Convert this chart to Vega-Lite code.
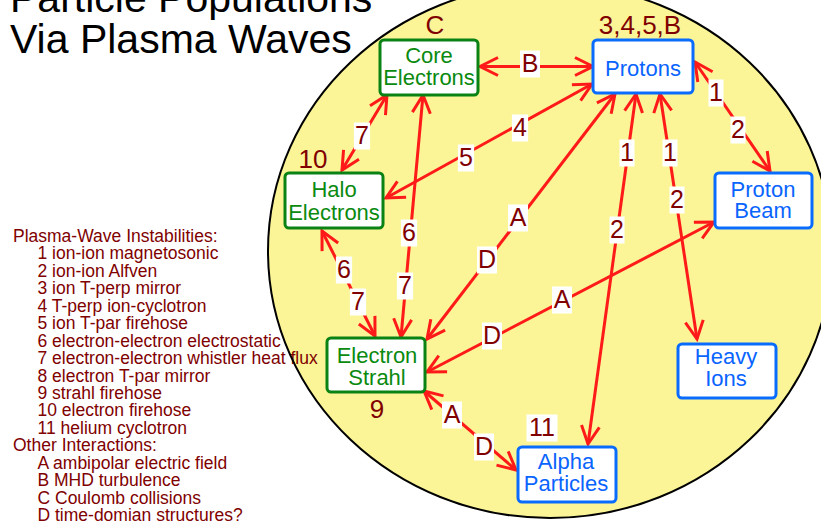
{
  "$schema": "https://vega.github.io/schema/vega-lite/v6.json",
  "width": 821,
  "height": 525,
  "padding": 0,
  "autosize": {"type": "none"},
  "background": "#ffffff",
  "config": {"view": {"stroke": null}, "font": "Liberation Sans"},
  "datasets": {
    "circle": [{"cx": 550, "cy": 251}],
    "legend": [
      {"t": "Plasma-Wave Instabilities:", "x": 13, "y": 242},
      {"t": "1 ion-ion magnetosonic", "x": 37.5, "y": 259.4},
      {"t": "2 ion-ion Alfven", "x": 37.5, "y": 276.9},
      {"t": "3 ion T-perp mirror", "x": 37.5, "y": 294.3},
      {"t": "4 T-perp ion-cyclotron", "x": 37.5, "y": 311.8},
      {"t": "5 ion T-par firehose", "x": 37.5, "y": 329.2},
      {"t": "6 electron-electron electrostatic", "x": 37.5, "y": 346.6},
      {"t": "7 electron-electron whistler heat flux", "x": 37.5, "y": 364.1},
      {"t": "8 electron T-par mirror", "x": 37.5, "y": 381.5},
      {"t": "9 strahl firehose", "x": 37.5, "y": 399},
      {"t": "10 electron firehose", "x": 37.5, "y": 416.4},
      {"t": "11 helium cyclotron", "x": 37.5, "y": 433.8},
      {"t": "Other Interactions:", "x": 13, "y": 451.3},
      {"t": "A ambipolar electric field", "x": 37.5, "y": 468.7},
      {"t": "B MHD turbulence", "x": 37.5, "y": 486.2},
      {"t": "C Coulomb collisions", "x": 37.5, "y": 503.6},
      {"t": "D time-domian structures?", "x": 37.5, "y": 521}
    ],
    "title": [
      {"t": "Particle Populations", "x": 10, "y": 12},
      {"t": "Via Plasma Waves", "x": 10, "y": 53}
    ],
    "arrows": [
      {"x1": 480, "y1": 66.5, "x2": 593, "y2": 66.5},
      {"x1": 387, "y1": 95, "x2": 342, "y2": 170},
      {"x1": 423, "y1": 95, "x2": 401, "y2": 337},
      {"x1": 592, "y1": 84, "x2": 386, "y2": 198},
      {"x1": 615, "y1": 94, "x2": 427, "y2": 339},
      {"x1": 636, "y1": 94, "x2": 588, "y2": 444},
      {"x1": 660, "y1": 94, "x2": 697, "y2": 339},
      {"x1": 695, "y1": 62, "x2": 770, "y2": 171},
      {"x1": 714, "y1": 222, "x2": 427, "y2": 372},
      {"x1": 322, "y1": 231, "x2": 375, "y2": 336},
      {"x1": 424, "y1": 391, "x2": 516, "y2": 470}
    ],
    "boxes": [
      {"name": "Core Electrons", "grp": "electron", "x1": 380, "y1": 40, "x2": 478, "y2": 95},
      {"name": "Protons", "grp": "ion", "x1": 593, "y1": 40, "x2": 693, "y2": 93},
      {"name": "Halo Electrons", "grp": "electron", "x1": 285, "y1": 173, "x2": 383, "y2": 228},
      {"name": "Proton Beam", "grp": "ion", "x1": 715, "y1": 173, "x2": 812, "y2": 228},
      {"name": "Electron Strahl", "grp": "electron", "x1": 327, "y1": 338, "x2": 425, "y2": 392},
      {"name": "Heavy Ions", "grp": "ion", "x1": 678, "y1": 344, "x2": 776, "y2": 398},
      {"name": "Alpha Particles", "grp": "ion", "x1": 518, "y1": 447, "x2": 616, "y2": 502}
    ],
    "nodes": [
      {"t": "Core", "grp": "electron", "x": 429, "y": 56},
      {"t": "Electrons", "grp": "electron", "x": 429, "y": 78},
      {"t": "Protons", "grp": "ion", "x": 643, "y": 69},
      {"t": "Halo", "grp": "electron", "x": 334, "y": 190},
      {"t": "Electrons", "grp": "electron", "x": 334, "y": 213},
      {"t": "Proton", "grp": "ion", "x": 763, "y": 190},
      {"t": "Beam", "grp": "ion", "x": 763, "y": 211},
      {"t": "Electron", "grp": "electron", "x": 377, "y": 356},
      {"t": "Strahl", "grp": "electron", "x": 377, "y": 378},
      {"t": "Heavy", "grp": "ion", "x": 726, "y": 357},
      {"t": "Ions", "grp": "ion", "x": 726, "y": 379},
      {"t": "Alpha", "grp": "ion", "x": 566, "y": 462},
      {"t": "Particles", "grp": "ion", "x": 566, "y": 484}
    ],
    "numbers": [
      {"t": "C", "x": 435, "y": 25.5},
      {"t": "3,4,5,B", "x": 640, "y": 25.5},
      {"t": "10", "x": 313, "y": 159.5},
      {"t": "9", "x": 377, "y": 409.5}
    ],
    "labels": [
      {"t": "B", "x": 530, "y": 64},
      {"t": "7", "x": 362, "y": 136},
      {"t": "6", "x": 409, "y": 233},
      {"t": "7", "x": 405, "y": 286},
      {"t": "4", "x": 520, "y": 128},
      {"t": "5", "x": 466, "y": 158},
      {"t": "A", "x": 518, "y": 218},
      {"t": "D", "x": 487, "y": 260},
      {"t": "1", "x": 627, "y": 153},
      {"t": "2", "x": 617, "y": 230},
      {"t": "1", "x": 670, "y": 153},
      {"t": "2", "x": 677, "y": 200},
      {"t": "1", "x": 716, "y": 93},
      {"t": "2", "x": 738, "y": 130},
      {"t": "A", "x": 562, "y": 300},
      {"t": "D", "x": 492, "y": 336},
      {"t": "6", "x": 344, "y": 270},
      {"t": "7", "x": 358, "y": 302},
      {"t": "A", "x": 452, "y": 415},
      {"t": "D", "x": 484, "y": 447},
      {"t": "11", "x": 542, "y": 428}
    ]
  },
  "layer": [
    {
      "data": {"name": "circle"},
      "mark": {"type": "point", "shape": "M1,0 C1,0.5229 0.5523,0.9468 0,0.9468 C-0.5523,0.9468 -1,0.5229 -1,0 C-1,-0.5229 -0.5523,-0.9468 0,-0.9468 C0.5523,-0.9468 1,-0.5229 1,0 Z", "size": 318096, "filled": true, "fill": "#fbf597", "strokeWidth": 0, "opacity": 1},
      "encoding": {
        "x": {"field": "cx", "type": "quantitative", "scale": {"domain": [0, 821], "nice": false, "zero": false}, "axis": null},
        "y": {"field": "cy", "type": "quantitative", "scale": {"domain": [0, 525], "reverse": true, "nice": false, "zero": false}, "axis": null}
      }
    },
    {
      "data": {"name": "legend"},
      "mark": {"type": "text", "align": "left", "baseline": "alphabetic", "fontSize": 17.5, "color": "#800000", "font": "Liberation Sans"},
      "encoding": {
        "x": {"field": "x", "type": "quantitative", "scale": {"domain": [0, 821], "nice": false, "zero": false}, "axis": null},
        "y": {"field": "y", "type": "quantitative", "scale": {"domain": [0, 525], "reverse": true, "nice": false, "zero": false}, "axis": null},
        "text": {"field": "t"}
      }
    },
    {
      "data": {"name": "circle"},
      "mark": {"type": "point", "shape": "M1,0 C1,0.5229 0.5523,0.9468 0,0.9468 C-0.5523,0.9468 -1,0.5229 -1,0 C-1,-0.5229 -0.5523,-0.9468 0,-0.9468 C0.5523,-0.9468 1,-0.5229 1,0 Z", "size": 318096, "filled": false, "stroke": "#000000", "strokeWidth": 2, "opacity": 1},
      "encoding": {
        "x": {"field": "cx", "type": "quantitative", "scale": {"domain": [0, 821], "nice": false, "zero": false}, "axis": null},
        "y": {"field": "cy", "type": "quantitative", "scale": {"domain": [0, 525], "reverse": true, "nice": false, "zero": false}, "axis": null}
      }
    },
    {
      "data": {"name": "title"},
      "mark": {"type": "text", "align": "left", "baseline": "alphabetic", "fontSize": 41, "color": "#000000", "font": "Liberation Sans"},
      "encoding": {
        "x": {"field": "x", "type": "quantitative", "scale": {"domain": [0, 821], "nice": false, "zero": false}, "axis": null},
        "y": {"field": "y", "type": "quantitative", "scale": {"domain": [0, 525], "reverse": true, "nice": false, "zero": false}, "axis": null},
        "text": {"field": "t"}
      }
    },
    {
      "data": {"name": "arrows"},
      "mark": {"type": "rule", "color": "#ff1a1a", "strokeWidth": 3},
      "encoding": {
        "x": {"field": "x1", "type": "quantitative", "scale": {"domain": [0, 821], "nice": false, "zero": false}, "axis": null},
        "y": {"field": "y1", "type": "quantitative", "scale": {"domain": [0, 525], "reverse": true, "nice": false, "zero": false}, "axis": null},
        "x2": {"field": "x2"},
        "y2": {"field": "y2"}
      }
    },
    {
      "data": {"name": "arrows"},
      "transform": [{"calculate": "atan2(datum.y2 - datum.y1, datum.x2 - datum.x1) * 180 / PI", "as": "a2"}],
      "mark": {"type": "point", "shape": "M-1,-0.5L0,0L-1,0.5", "size": 1296, "filled": false, "color": "#ff1a1a", "strokeWidth": 3, "opacity": 1},
      "encoding": {
        "x": {"field": "x2", "type": "quantitative", "scale": {"domain": [0, 821], "nice": false, "zero": false}, "axis": null},
        "y": {"field": "y2", "type": "quantitative", "scale": {"domain": [0, 525], "reverse": true, "nice": false, "zero": false}, "axis": null},
        "angle": {"field": "a2", "type": "quantitative", "scale": null}
      }
    },
    {
      "data": {"name": "arrows"},
      "transform": [{"calculate": "atan2(datum.y1 - datum.y2, datum.x1 - datum.x2) * 180 / PI", "as": "a1"}],
      "mark": {"type": "point", "shape": "M-1,-0.5L0,0L-1,0.5", "size": 1296, "filled": false, "color": "#ff1a1a", "strokeWidth": 3, "opacity": 1},
      "encoding": {
        "x": {"field": "x1", "type": "quantitative", "scale": {"domain": [0, 821], "nice": false, "zero": false}, "axis": null},
        "y": {"field": "y1", "type": "quantitative", "scale": {"domain": [0, 525], "reverse": true, "nice": false, "zero": false}, "axis": null},
        "angle": {"field": "a1", "type": "quantitative", "scale": null}
      }
    },
    {
      "data": {"name": "boxes"},
      "mark": {"type": "rect", "fill": "#ffffff", "strokeWidth": 3, "cornerRadius": 4},
      "encoding": {
        "x": {"field": "x1", "type": "quantitative", "scale": {"domain": [0, 821], "nice": false, "zero": false}, "axis": null},
        "y": {"field": "y1", "type": "quantitative", "scale": {"domain": [0, 525], "reverse": true, "nice": false, "zero": false}, "axis": null},
        "x2": {"field": "x2"},
        "y2": {"field": "y2"},
        "stroke": {"field": "grp", "type": "nominal", "scale": {"domain": ["electron", "ion"], "range": ["#0a8214", "#0a6cff"]}, "legend": null}
      }
    },
    {
      "data": {"name": "nodes"},
      "mark": {"type": "text", "align": "center", "baseline": "middle", "fontSize": 22, "font": "Liberation Sans"},
      "encoding": {
        "x": {"field": "x", "type": "quantitative", "scale": {"domain": [0, 821], "nice": false, "zero": false}, "axis": null},
        "y": {"field": "y", "type": "quantitative", "scale": {"domain": [0, 525], "reverse": true, "nice": false, "zero": false}, "axis": null},
        "text": {"field": "t"},
        "color": {"field": "grp", "type": "nominal", "scale": {"domain": ["electron", "ion"], "range": ["#0a8a0f", "#0a64ff"]}, "legend": null}
      }
    },
    {
      "data": {"name": "numbers"},
      "mark": {"type": "text", "align": "center", "baseline": "middle", "fontSize": 26, "color": "#800000", "font": "Liberation Sans"},
      "encoding": {
        "x": {"field": "x", "type": "quantitative", "scale": {"domain": [0, 821], "nice": false, "zero": false}, "axis": null},
        "y": {"field": "y", "type": "quantitative", "scale": {"domain": [0, 525], "reverse": true, "nice": false, "zero": false}, "axis": null},
        "text": {"field": "t"}
      }
    },
    {
      "data": {"name": "labels"},
      "mark": {"type": "point", "size": 729, "filled": true, "fill": "#ffffff", "strokeWidth": 0, "opacity": 1},
      "encoding": {
        "x": {"field": "x", "type": "quantitative", "scale": {"domain": [0, 821], "nice": false, "zero": false}, "axis": null},
        "y": {"field": "y", "type": "quantitative", "scale": {"domain": [0, 525], "reverse": true, "nice": false, "zero": false}, "axis": null},
        "shape": {"field": "t", "type": "nominal", "scale": {"domain": ["1", "2", "4", "5", "6", "7", "11", "A", "B", "D"], "range": ["M-0.556,-1L0.556,-1L0.556,1L-0.556,1Z", "M-0.556,-1L0.556,-1L0.556,1L-0.556,1Z", "M-0.6,-1L0.6,-1L0.6,1L-0.6,1Z", "M-0.6,-1L0.6,-1L0.6,1L-0.6,1Z", "M-0.6,-1L0.6,-1L0.6,1L-0.6,1Z", "M-0.6,-1L0.6,-1L0.6,1L-0.6,1Z", "M-1.15,-1L1.15,-1L1.15,1L-1.15,1Z", "M-0.74,-1L0.74,-1L0.74,1L-0.74,1Z", "M-0.74,-1L0.74,-1L0.74,1L-0.74,1Z", "M-0.74,-1L0.74,-1L0.74,1L-0.74,1Z"]}, "legend": null}
      }
    },
    {
      "data": {"name": "labels"},
      "mark": {"type": "text", "align": "center", "baseline": "middle", "fontSize": 25, "color": "#800000", "font": "Liberation Sans"},
      "encoding": {
        "x": {"field": "x", "type": "quantitative", "scale": {"domain": [0, 821], "nice": false, "zero": false}, "axis": null},
        "y": {"field": "y", "type": "quantitative", "scale": {"domain": [0, 525], "reverse": true, "nice": false, "zero": false}, "axis": null},
        "text": {"field": "t"}
      }
    }
  ]
}
